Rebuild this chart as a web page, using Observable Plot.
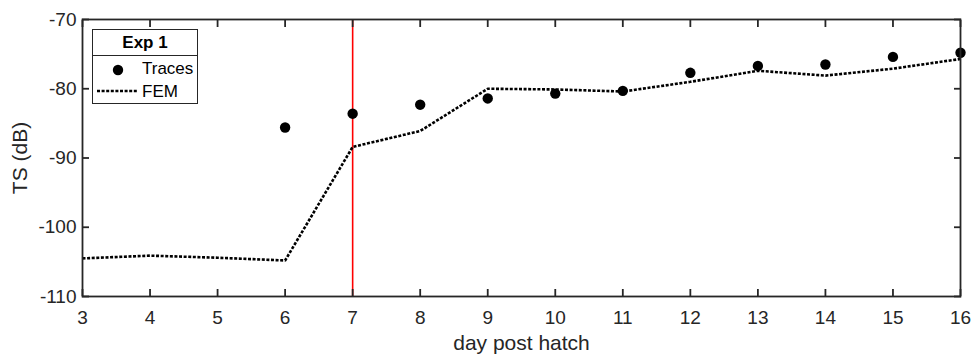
<!DOCTYPE html>
<html>
<head>
<meta charset="utf-8">
<script src="https://cdn.jsdelivr.net/npm/d3@7"></script>
<script src="https://cdn.jsdelivr.net/npm/@observablehq/plot@0.6"></script>
<style>
  html, body { margin: 0; padding: 0; background: #fff; }
  #wrap { position: relative; width: 973px; height: 355px; font-family: "Liberation Sans", Arial, sans-serif; }
  #legend { position: absolute; left: 92px; top: 29px; width: 106px; height: 75px; box-sizing: border-box; border: 1.8px solid #262626; background: #fff; color: #000; font-size: 17px; }
  #legend .sep { position: absolute; left: 0; right: 0; top: 24.5px; height: 0; border-top: 1.8px solid #262626; }
  #legend .t { position: absolute; line-height: 20px; height: 20px; white-space: nowrap; }
  #legend svg { position: absolute; left: 0; top: 0; }
</style>
</head>
<body>
<div id="wrap"></div>
<script>
const days = [3, 4, 5, 6, 7, 8, 9, 10, 11, 12, 13, 14, 15, 16];
const femTS = [-104.5, -104.1, -104.4, -104.8, -88.4, -86.1, -80.0, -80.1, -80.4, -79.0, -77.4, -78.1, -77.1, -75.7];
const traceDays = [6, 7, 8, 9, 10, 11, 12, 13, 14, 15, 16];
const traceTS = [-85.6, -83.6, -82.3, -81.4, -80.7, -80.3, -77.7, -76.7, -76.5, -75.4, -74.8];
const xTicks = [3, 4, 5, 6, 7, 8, 9, 10, 11, 12, 13, 14, 15, 16];
const yTicks = [-110, -100, -90, -80, -70];
const markerDay = [7];
const legendTitle = "Exp 1";
const seriesNames = ["Traces", "FEM"];

const fem = days.map((d, i) => ({day: d, ts: femTS[i]}));
const traces = traceDays.map((d, i) => ({day: d, ts: traceTS[i]}));

const axisColor = "#262626";
const fmt = d => d.toString();

const chart = Plot.plot({
  width: 973,
  height: 355,
  marginLeft: 82,
  marginRight: 13,
  marginTop: 19,
  marginBottom: 59,
  style: {fontFamily: "Liberation Sans, Arial, sans-serif", fontSize: "19px", color: axisColor, background: "#fff", overflow: "visible"},
  x: {domain: [3, 16]},
  y: {domain: [-110, -70]},
  marks: [
    Plot.ruleX(markerDay, {stroke: "#ff0000", strokeWidth: 1.6}),
    Plot.line(fem, {x: "day", y: "ts", stroke: "#000", strokeWidth: 2.6, strokeDasharray: "3,1.6", strokeLinecap: "butt", strokeLinejoin: "miter"}),
    Plot.dot(traces, {x: "day", y: "ts", r: 5.2, fill: "#000", stroke: "none"}),
    Plot.frame({stroke: axisColor, strokeWidth: 1.8}),
    Plot.axisX(xTicks, {anchor: "bottom", tickSize: -7, text: null, stroke: axisColor, strokeWidth: 1.8, label: null}),
    Plot.axisX(xTicks, {anchor: "top", tickSize: -7, text: null, stroke: axisColor, strokeWidth: 1.8, label: null}),
    Plot.axisX(xTicks, {anchor: "bottom", tickSize: 0, tickPadding: 14, fill: axisColor, fontSize: 19, tickFormat: fmt,
      label: "day post hatch", labelAnchor: "center", labelOffset: 53, labelArrow: "none"}),
    Plot.axisY(yTicks, {anchor: "left", tickSize: -7, text: null, stroke: axisColor, strokeWidth: 1.8, label: null}),
    Plot.axisY(yTicks, {anchor: "right", tickSize: -7, text: null, stroke: axisColor, strokeWidth: 1.8, label: null}),
    Plot.axisY(yTicks, {anchor: "left", tickSize: 0, tickPadding: 6, fill: axisColor, fontSize: 19, tickFormat: fmt,
      label: "TS (dB)", labelAnchor: "center", labelOffset: 70, labelArrow: "none"})
  ]
});

// font sizes: tick labels 19px, axis titles 21px
chart.querySelectorAll("g[aria-label='x-axis tick label'], g[aria-label='y-axis tick label']").forEach(g => {
  g.setAttribute("font-size", "19");
  g.querySelectorAll("text").forEach(t => t.setAttribute("font-size", "19"));
});
chart.querySelectorAll("g[aria-label='x-axis label'], g[aria-label='y-axis label']").forEach(g => {
  g.setAttribute("font-size", "21");
  g.querySelectorAll("text").forEach(t => t.setAttribute("font-size", "21"));
});

const wrap = document.getElementById("wrap");
wrap.appendChild(chart);

const legend = document.createElement("div");
legend.id = "legend";
legend.innerHTML = `
  <div class="t" style="left:0;right:0;top:3px;text-align:center;font-weight:bold;">${legendTitle}</div>
  <div class="sep"></div>
  <svg width="50" height="75">
    <circle cx="25" cy="40" r="5.2" fill="#000"/>
    <line x1="4" x2="45" y1="61" y2="61" stroke="#000" stroke-width="2.6" stroke-dasharray="3,1.6"/>
  </svg>
  <div class="t" style="left:49px;top:29px;">${seriesNames[0]}</div>
  <div class="t" style="left:49px;top:52px;">${seriesNames[1]}</div>`;
wrap.appendChild(legend);
</script>
</body>
</html>
